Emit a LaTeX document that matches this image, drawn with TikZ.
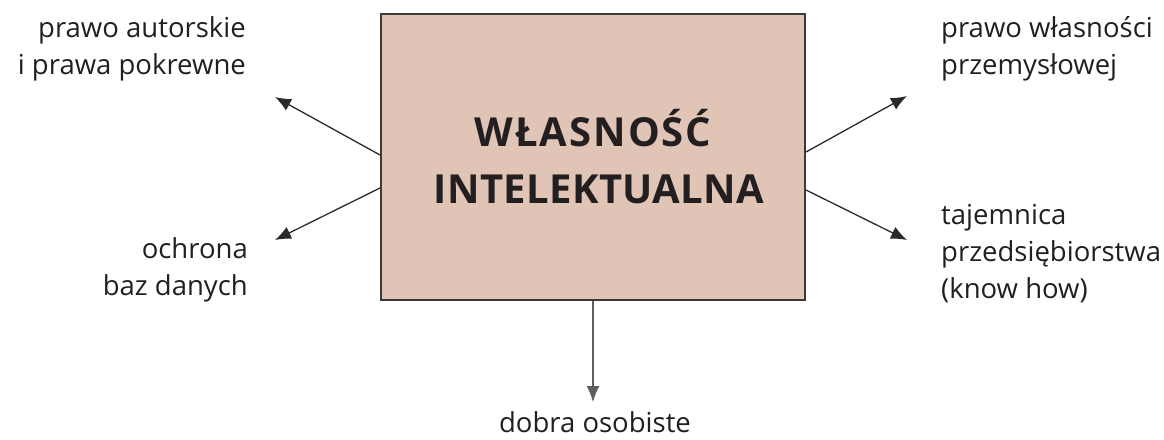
\documentclass[tikz,border=0pt]{standalone}
\usepackage{fontspec}
\setmainfont{Open Sans}
\usetikzlibrary{arrows.meta}
\definecolor{boxfill}{HTML}{E0C4B5}
\definecolor{boxline}{HTML}{3A3A3A}
\definecolor{ink}{HTML}{231F20}
\definecolor{arr}{HTML}{2A2A2A}
\tikzset{
  lbl/.style={font=\fontsize{27.5}{37}\selectfont, text=ink, inner sep=0pt},
  conn/.style={draw=arr, line width=1.3pt, -{Latex[length=16pt,width=13pt]}},
}
\begin{document}
\begin{tikzpicture}[x=1pt,y=-1pt]
\useasboundingbox (0,0) rectangle (1164,439);
\node[draw=boxline, fill=boxfill, line width=2pt, minimum width=424pt, minimum height=286pt, inner sep=0pt,
  align=center, font=\fontsize{40}{57}\selectfont\bfseries, text=ink] (box) at (593,157)
  {\addfontfeature{LetterSpace=5}WŁASNOŚĆ\\\hspace*{12pt}\addfontfeature{LetterSpace=1}INTELEKTUALNA};
\coordinate (lu) at (275,97);
\coordinate (ll) at (275,240);
\coordinate (ru) at (907,96);
\coordinate (rl) at (907,240);
\coordinate (dn) at (593,402);
\draw[conn] ([yshift=2pt]box.west) -- (lu);
\draw[conn] ([yshift=-31pt]box.west) -- (ll);
\draw[conn] ([yshift=5pt]box.east) -- (ru);
\draw[conn] ([yshift=-33pt]box.east) -- (rl);
\draw[conn, draw=arr!75] (box.south) -- (dn);
\node[lbl, align=right, anchor=base east] (t1) at (246,74) {prawo autorskie\\i prawa pokrewne};
\node[lbl, align=right, anchor=base east] (t2) at (248,295) {ochrona\\baz danych};
\node[lbl, align=left, anchor=base west] (t3) at (941,74) {prawo własności\\przemysłowej};
\node[lbl, align=left, anchor=base west] (t4) at (941,298) {tajemnica\\przedsiębiorstwa\\(know how)};
\node[lbl, anchor=base] (t5) at (595,432) {dobra osobiste};
\end{tikzpicture}
\end{document}
